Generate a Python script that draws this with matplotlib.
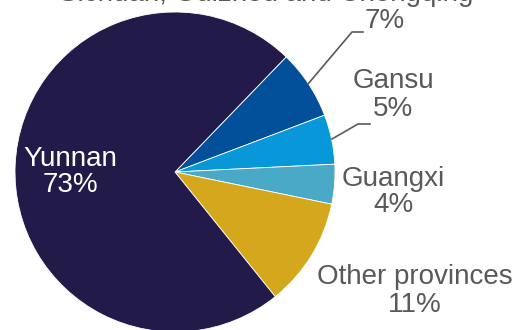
import matplotlib.pyplot as plt

plt.rcParams["font.family"] = ["Liberation Sans", "DejaVu Sans"]

# shares of production by province (percent), clockwise from upper right
regions = ["Sichuan, Guizhou and Chongqing", "Gansu", "Guangxi", "Other provinces", "Yunnan"]
shares = [7, 5, 4, 11, 73]
colors = ["#03509a", "#0897d8", "#4aa9c7", "#d5a71c", "#221a48"]

W, H = 518, 330
fig = plt.figure(figsize=(W / 100, H / 100), dpi=100)
ax = fig.add_axes([0, 0, 1, 1])

cx, cy, r = 175, H - 172, 160
ax.pie(shares, colors=colors, startangle=46, counterclock=False,
       center=(cx, cy), radius=r, frame=True,
       wedgeprops=dict(linewidth=0.6, edgecolor="white"))
ax.set_xlim(0, W)
ax.set_ylim(0, H)
ax.set_aspect("equal")
ax.axis("off")

grey = "#595959"
fs = 20


def label(x, y, name, pct, color=grey):
    ax.text(x, H - y, f"{name}\n{pct}%", ha="center", va="center",
            fontsize=fs, color=color, linespacing=1.05)


# labels outside the pie; the first name runs off the top edge
ax.text(266, H - 1, regions[0], ha="center", va="baseline",
        fontsize=fs, color=grey)
ax.text(385, H - 21, f"{shares[0]}%", ha="center", va="center",
        fontsize=fs, color=grey)
label(393, 95, regions[1], shares[1])
label(393, 192, regions[2], shares[2])
label(415, 291, regions[3], shares[3])
label(70, 172, regions[4], shares[4], color="white")

# leader lines
ax.plot([308, 352, 363], [H - 84, H - 32, H - 32], color=grey, lw=1.2)
ax.plot([332, 358, 370], [H - 139, H - 124, H - 124], color=grey, lw=1.2)

fig.savefig("out.png", dpi=100)
